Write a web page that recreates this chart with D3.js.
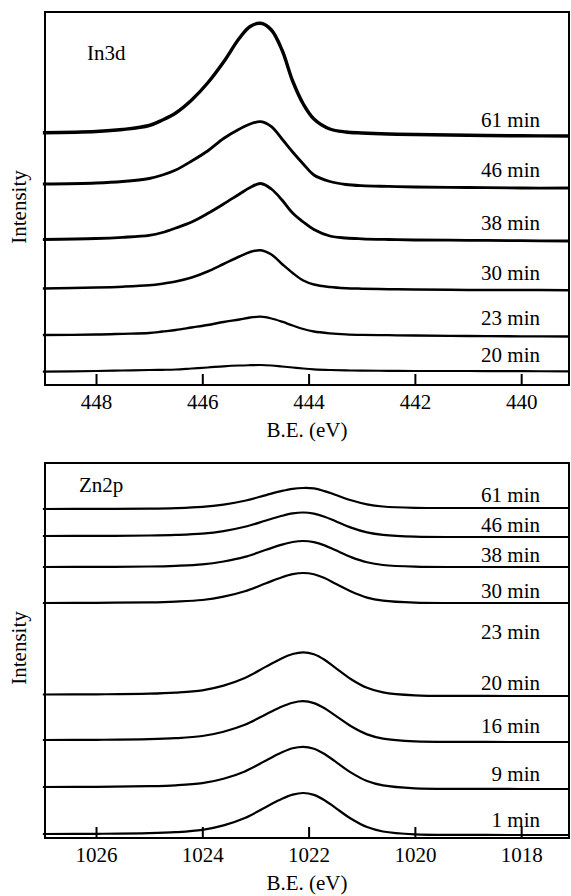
<!DOCTYPE html>
<meta charset="utf-8">
<style>
body { margin: 0; background: #fff; }
svg { display: block; }
.frame { fill: none; stroke: #000; stroke-width: 2px; }
.spec { fill: none; stroke: #000; stroke-linejoin: round; }
text { font-family: "Liberation Serif", "Times New Roman", Tinos, "DejaVu Serif", serif; font-size: 21px; fill: #000; }
</style>
<body>
<script src="https://d3js.org/d3.v7.min.js"></script>
<script>

// ---- In3d panel data (binding energy, intensity a.u. incl. stacking offset)
var inBE = [449, 448, 447.5, 447, 446.75, 446.5, 446.2, 445.9, 445.6, 445.3, 445.1, 444.9, 444.7,
            444.5, 444.3, 444.1, 443.9, 443.6, 443.3, 443, 442.5, 442, 441, 440, 439.1];
var in61 = [252.3, 253.5, 255.5, 259.5, 265, 272, 285, 302, 323, 347, 358.5, 361.7, 355, 335, 304, 281, 266, 256, 253, 252, 251, 250.5, 249.7, 249.2, 249];
var in46 = [201, 202, 203.5, 206.5, 210, 215, 224, 234, 246.5, 256, 261, 263.3, 258.3, 246, 233, 221, 210, 203.5, 200.5, 199.3, 198.6, 198, 197.5, 197, 197];
var in38 = [145.5, 146.5, 147.7, 149.7, 152.5, 157, 163, 171.5, 181, 191, 197.5, 201.5, 196, 185, 172, 163, 155.5, 149, 147, 146.2, 145.5, 145, 144.7, 144.3, 144];
var in30 = [96.5, 97.5, 98.3, 99.7, 101.3, 103.5, 107.5, 113.5, 121, 128.5, 133, 134.8, 130.5, 121, 112, 104.5, 100.5, 98, 96.8, 96.3, 95.8, 95.5, 95, 95, 94.7];
var in23 = [50, 50.5, 51.2, 52, 53.5, 55, 57.5, 60, 63, 65.5, 67.5, 68.3, 66.5, 63.3, 59.5, 56, 53.5, 51.7, 50.7, 50.2, 49.8, 49.5, 49, 48.7, 48.5];
var in20 = [13.3, 14, 14.5, 15, 15.2, 15.5, 16.5, 17.5, 18.7, 19.5, 19.8, 20, 19.5, 18.5, 17.5, 16.5, 15.7, 15, 14.6, 14.4, 14.2, 14, 14, 13.8, 13.7];
var inTimes = ["61 min", "46 min", "38 min", "30 min", "23 min", "20 min"];
var inLabelAt = [258, 208, 155, 105, 60, 23];
var inTicks = [448, 446, 444, 442, 440];

// ---- Zn2p panel data
var znBE = [1027, 1026, 1025, 1024.5, 1024, 1023.6, 1023.2, 1022.8, 1022.5, 1022.3, 1022.1,
            1021.9, 1021.7, 1021.5, 1021.2, 1020.9, 1020.6, 1020, 1019, 1018, 1017.1];
var zn61 = [329, 329.1, 329.4, 329.9, 331.1, 333.4, 337.2, 342.9, 347.1, 349.2, 350, 349.6, 346.9, 343.3, 337.7, 333.6, 331.5, 330.2, 330, 330, 330];
var zn46 = [302, 302.1, 302.5, 303.1, 304.4, 306.9, 311.2, 317.5, 322.2, 324.6, 325.5, 324.3, 321.3, 317, 310.4, 305.6, 303.1, 301.3, 301, 301, 301];
var zn38 = [271, 271.1, 271.5, 272.2, 273.6, 276.5, 281.1, 288.2, 293.4, 296, 297, 295.8, 292.6, 287.9, 280.9, 275.7, 273, 271.3, 271, 271, 271];
var zn30 = [235, 235.2, 235.6, 236.4, 238, 241.3, 246.7, 254.8, 260.8, 263.8, 265, 263.7, 259.9, 254.5, 246.4, 240.4, 237.3, 235.3, 235, 235, 235];
var zn20 = [143.5, 143.7, 144.3, 145.4, 147.7, 152.4, 160, 171.4, 179.8, 184, 185.7, 183.7, 178.2, 170.4, 158.8, 150.2, 145.6, 142.6, 142.1, 142, 142];
var zn16 = [98, 98.2, 98.8, 99.8, 102, 106.3, 113.2, 123.7, 131.5, 135.3, 136.8, 134.9, 129.8, 122.6, 111.7, 103.6, 99.4, 96.6, 96.1, 96, 96];
var zn9  = [51, 51.2, 51.8, 52.7, 54.9, 59.3, 66.6, 77.6, 85.7, 89.7, 91.2, 89.3, 84, 76.6, 65.4, 57, 52.6, 49.7, 49.2, 49, 49];
var zn1  = [4, 4.2, 4.8, 5.8, 8.1, 12.6, 20, 31.1, 39.3, 43.4, 45, 43.1, 37.8, 30.4, 19.2, 10.9, 6.5, 3.6, 3.1, 3, 3];
var znTimes = ["61 min", "46 min", "38 min", "30 min", "23 min", "20 min", "16 min", "9 min", "1 min"];
var znLabelAt = [336, 306, 276, 240, 199, 148, 105, 57, 11];
var znTicks = [1026, 1024, 1022, 1020, 1018];

var W = 571, H = 896;
var svg = d3.select("body").append("svg")
    .attr("width", W).attr("height", H)
    .attr("font-family", "Liberation Serif, serif");

function panel(opt) {
  var x = d3.scaleLinear().domain(opt.xdom).range([45, 569]);
  var y = d3.scaleLinear().domain(opt.ydom).range([opt.bottom, opt.top]);
  var g = svg.append("g");

  var line = d3.line()
      .x(function(d) { return x(d[0]); })
      .y(function(d) { return y(d[1]); })
      .curve(d3.curveCatmullRom.alpha(0.5));

  opt.series.forEach(function(s, i) {
    g.append("path")
      .datum(d3.zip(opt.be, s))
      .attr("class", "spec")
      .attr("stroke-width", opt.widths[i])
      .attr("d", line);
  });

  // time labels at right
  g.selectAll(".lab").data(opt.times).enter().append("text")
    .attr("x", 540)
    .attr("y", function(d, i) { return y(opt.labelAt[i]); })
    .attr("text-anchor", "end")
    .text(function(d) { return d; });

  // frame
  g.append("rect").attr("class", "frame")
    .attr("x", 45).attr("y", opt.top)
    .attr("width", 524).attr("height", opt.bottom - opt.top);

  // x axis, ticks pointing inward
  var ax = g.append("g")
    .attr("transform", "translate(0," + opt.bottom + ")")
    .call(d3.axisBottom(x).tickValues(opt.ticks).tickFormat(d3.format("d"))
      .tickSizeInner(-11).tickSizeOuter(0).tickPadding(9));
  ax.select(".domain").remove();
  ax.selectAll(".tick line").attr("stroke-width", 2);
  ax.attr("font-family", null).attr("font-size", null);

  g.append("text")
    .attr("x", 307).attr("y", opt.bottom + 52)
    .attr("text-anchor", "middle")
    .text("B.E. (eV)");

  g.append("text")
    .attr("transform", "translate(26," + opt.ylabY + ") rotate(-90)")
    .attr("text-anchor", "middle")
    .text("Intensity");

  g.append("text")
    .attr("x", opt.nameX).attr("y", opt.nameY)
    .text(opt.name);
}

panel({
  xdom: [448.96, 439.1], ydom: [0, 373], top: 12, bottom: 385,
  be: inBE, series: [in61, in46, in38, in30, in23, in20],
  widths: [3.4, 2.8, 2.8, 2.5, 2.3, 2.2],
  times: inTimes, labelAt: inLabelAt, ticks: inTicks,
  name: "In3d", nameX: 87, nameY: 60, ylabY: 207
});

panel({
  xdom: [1026.96, 1017.1], ydom: [0, 375], top: 463, bottom: 838,
  be: znBE, series: [zn61, zn46, zn38, zn30, zn20, zn16, zn9, zn1],
  widths: [2.2, 2.2, 2.2, 2.2, 2.2, 2.2, 2.2, 2.2],
  times: znTimes, labelAt: znLabelAt, ticks: znTicks,
  name: "Zn2p", nameX: 79, nameY: 492, ylabY: 648
});

</script>
</body>
